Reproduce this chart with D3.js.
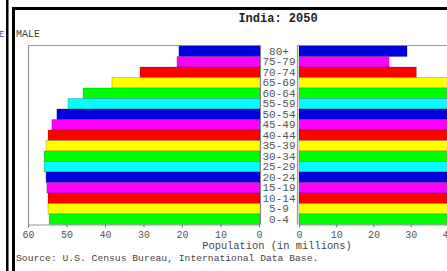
<!DOCTYPE html>
<html><head><meta charset="utf-8">
<script src="https://cdn.jsdelivr.net/npm/d3@7/dist/d3.min.js"></script>
<style>html,body{margin:0;padding:0;background:#fff;}svg{display:block;}</style>
</head><body>
<svg id="c" width="447" height="271"></svg>
<script>
const ageGroups = ["80+","75-79","70-74","65-69","60-64","55-59","50-54","45-49","40-44","35-39","30-34","25-29","20-24","15-19","10-14","5-9","0-4"];
const maleValues = [20.8,21.3,30.9,38.2,45.7,49.6,52.5,53.8,54.8,55.3,55.8,55.8,55.3,55.1,54.8,54.8,54.5];
const femaleValues = [29.0,24.2,31.5,40.5,47.0,50.0,52.0,53.0,53.5,54.0,54.0,54.0,53.0,52.5,52.0,51.5,51.0];
const colorCycle = ["#0000dd","#ff00ff","#ff0000","#ffff00","#00ff00","#00ffff"];
const maleTicks = [60,50,40,30,20,10,0];
const femaleTicks = [0,10,20,30,40];

const svg = d3.select("#c");
const mono = "'Liberation Mono','DejaVu Sans Mono',monospace";

// outer page borders
svg.append("rect").attr("x",6).attr("y",0).attr("width",2.5).attr("height",271).attr("fill","#000");
svg.append("rect").attr("x",12).attr("y",7).attr("width",3).attr("height",264).attr("fill","#000");
svg.append("rect").attr("x",12).attr("y",7).attr("width",435).attr("height",3).attr("fill","#000");
svg.append("text").attr("x",-1).attr("y",37).attr("font-family",mono).attr("font-size",9).attr("fill","#555").text("E");
svg.append("text").attr("x",16).attr("y",37).attr("font-family",mono).attr("font-size",10).attr("fill","#444").text("MALE");

svg.append("text").attr("x",278).attr("y",22).attr("text-anchor","middle").attr("font-family",mono)
  .attr("font-weight","bold").attr("font-size",12).attr("fill","#222").text("India: 2050");

const y = d3.scaleBand().domain(ageGroups).range([46,224.5]).padding(0);
const xm = d3.scaleLinear().domain([60,0]).range([28,259]);
const xf = d3.scaleLinear().domain([0,40]).range([299,448]);

// frames
const frame = svg.append("g").attr("stroke","#999").attr("stroke-width",1.2).attr("fill","none");
frame.append("path").attr("d",`M28.5,224.5V45.5H260.5V224.5`);
frame.append("path").attr("d",`M297.5,224.5V45.5H447`);

// bars
const data = ageGroups.map((a,i)=>({age:a,m:maleValues[i],f:femaleValues[i],c:colorCycle[i%6]}));
svg.append("g").selectAll("rect").data(data).join("rect")
  .attr("x",d=>xm(d.m)).attr("y",d=>y(d.age)).attr("width",d=>xm(0)-xm(d.m)+1).attr("height",y.bandwidth())
  .attr("fill",d=>d.c).attr("stroke","rgba(0,0,0,0.25)").attr("stroke-width",0.8);
svg.append("g").selectAll("rect").data(data).join("rect")
  .attr("x",xf(0)).attr("y",d=>y(d.age)).attr("width",d=>xf(d.f)-xf(0)).attr("height",y.bandwidth())
  .attr("fill",d=>d.c).attr("stroke","rgba(0,0,0,0.25)").attr("stroke-width",0.8);

// age labels
svg.append("g").selectAll("text").data(ageGroups).join("text")
  .attr("x",279).attr("y",d=>y(d)+y.bandwidth()/2+3.5).attr("text-anchor","middle")
  .attr("font-family",mono).attr("font-size",11).attr("fill","#555").text(d=>d);

// axes
function styleAxis(g){
  g.select(".domain").attr("stroke","#999").attr("stroke-width",1.2);
  g.selectAll(".tick line").attr("stroke","#777");
  g.selectAll(".tick text").attr("font-family",mono).attr("font-size",10).attr("fill","#555");
}
svg.append("g").attr("transform","translate(0,224.5)")
  .call(d3.axisBottom(xm).tickValues(maleTicks).tickSize(3).tickSizeOuter(0).tickPadding(3))
  .call(styleAxis);
svg.append("g").attr("transform","translate(0,224.5)")
  .call(d3.axisBottom(xf).tickValues(femaleTicks).tickSize(3).tickSizeOuter(0).tickPadding(3))
  .call(styleAxis);

svg.append("text").attr("x",277).attr("y",249).attr("text-anchor","middle").attr("font-family",mono)
  .attr("font-size",10.4).attr("fill","#444").text("Population (in millions)");
svg.append("text").attr("x",16).attr("y",261).attr("font-family",mono)
  .attr("font-size",9.7).attr("fill","#444").text("Source: U.S. Census Bureau, International Data Base.");
</script>
</body></html>
